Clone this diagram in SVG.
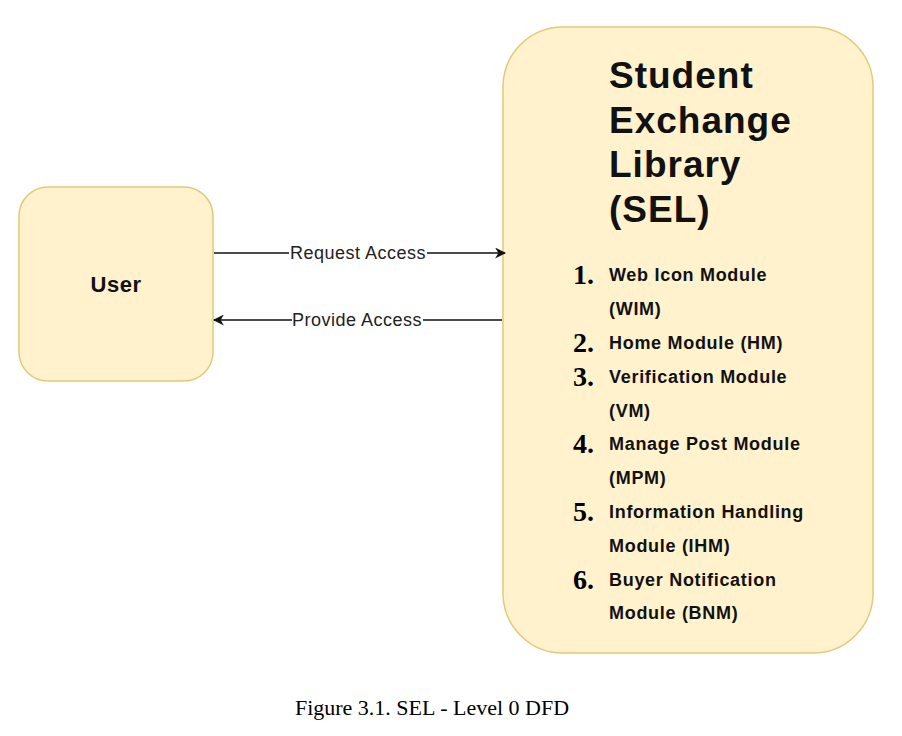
<svg xmlns="http://www.w3.org/2000/svg" width="902" height="736" viewBox="0 0 902 736">
<style>
.box{fill:#fff2cc;stroke:#e3c977;stroke-width:1.5}
.t{font-family:"Liberation Sans",Arial,sans-serif;font-weight:bold;fill:#111}
.title{font-size:37px;letter-spacing:1px}
.item{font-size:18px;letter-spacing:0.7px}
.num{font-family:"Liberation Serif","Times New Roman",serif;font-size:28px;font-weight:bold;fill:#000}
.lbl{font-family:"Liberation Sans",Arial,sans-serif;font-size:18px;letter-spacing:0.5px;fill:#222}
.line{stroke:#111;stroke-width:1.5;fill:none}
</style>
<defs>
<marker id="ah" viewBox="0 0 10 10" refX="9" refY="5" markerWidth="11" markerHeight="11" markerUnits="userSpaceOnUse" orient="auto">
<path d="M0,0 L10,5 L0,10 L3,5 z" fill="#111"/>
</marker>
</defs>
<rect width="902" height="736" fill="#fff"/>
<g id="user">
<rect class="box" x="19" y="187" width="194" height="194" rx="29"/>
<text class="t" x="116" y="292" font-size="22" letter-spacing="0.5" text-anchor="middle">User</text>
</g>
<g id="sel">
<rect class="box" x="503" y="27" width="370" height="626" rx="60"/>
<text class="t title" x="609" y="88">Student</text>
<text class="t title" x="609" y="133">Exchange</text>
<text class="t title" x="609" y="177">Library</text>
<text class="t title" x="609" y="222">(SEL)</text>
<text class="num" x="573" y="284">1.</text>
<text class="t item" x="609" y="281">Web Icon Module</text>
<text class="t item" x="609" y="315">(WIM)</text>
<text class="num" x="573" y="352">2.</text>
<text class="t item" x="609" y="349">Home Module (HM)</text>
<text class="num" x="573" y="386">3.</text>
<text class="t item" x="609" y="383">Verification Module</text>
<text class="t item" x="609" y="417">(VM)</text>
<text class="num" x="573" y="453">4.</text>
<text class="t item" x="609" y="450">Manage Post Module</text>
<text class="t item" x="609" y="484">(MPM)</text>
<text class="num" x="573" y="521">5.</text>
<text class="t item" x="609" y="518">Information Handling</text>
<text class="t item" x="609" y="552">Module (IHM)</text>
<text class="num" x="573" y="589">6.</text>
<text class="t item" x="609" y="586">Buyer Notification</text>
<text class="t item" x="609" y="619">Module (BNM)</text>
</g>
<g id="connectors">
<line class="line" x1="214" y1="253" x2="505" y2="253" marker-end="url(#ah)"/>
<rect x="289" y="242" width="138" height="20" fill="#fff"/>
<text class="lbl" x="358" y="259" text-anchor="middle">Request Access</text>
<line class="line" x1="502" y1="320" x2="214" y2="320" marker-end="url(#ah)"/>
<rect x="292" y="309" width="131" height="20" fill="#fff"/>
<text class="lbl" x="357" y="326" text-anchor="middle">Provide Access</text>
</g>
<text x="432" y="715" font-family="Liberation Serif,'Times New Roman',serif" font-size="22" text-anchor="middle" fill="#000">Figure 3.1. SEL - Level 0 DFD</text>
</svg>
